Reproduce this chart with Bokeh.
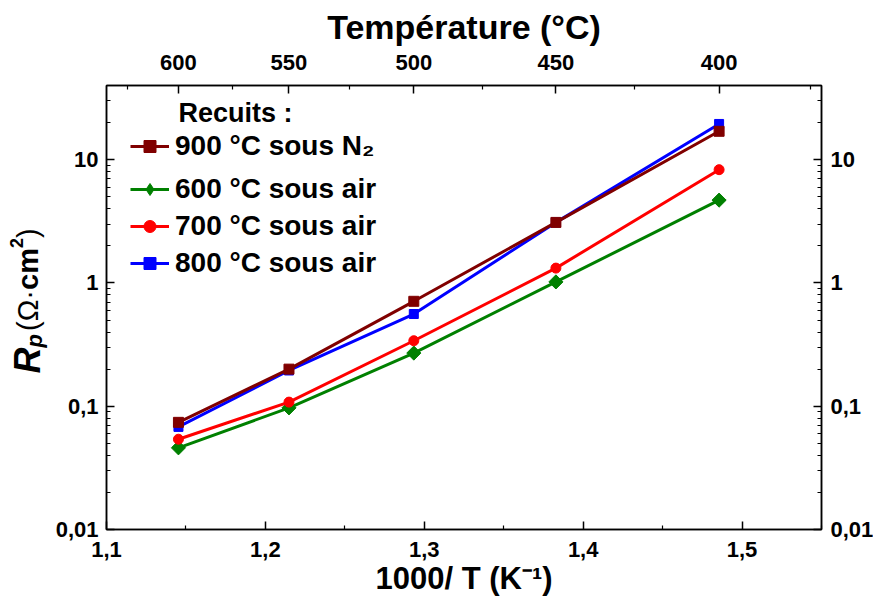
import numpy as np
from bokeh.plotting import figure
from bokeh.layouts import row
from bokeh.models import (LogAxis, LinearAxis, FixedTicker, CustomJSTickFormatter,
                          Legend, LegendItem, Label, Range1d)
from bokeh.embed import file_html
from bokeh.resources import INLINE

# ---- data ----
temps_C = [600, 550, 500, 450, 400]              # measurement temperatures (°C)
inv_T = [1000.0 / (t + 273.15) for t in temps_C]  # 1000/T (K^-1)

rp_900_N2 = [0.074, 0.20, 0.71, 3.1, 17.0]
rp_600_air = [0.046, 0.097, 0.27, 1.02, 4.7]
rp_700_air = [0.054, 0.108, 0.34, 1.32, 8.3]
rp_800_air = [0.068, 0.195, 0.56, 3.1, 19.5]

labels = ["900 °C sous N₂", "600 °C sous air", "700 °C sous air", "800 °C sous air"]

x_major = [1.1, 1.2, 1.3, 1.4, 1.5]
x_minor = [1.15, 1.25, 1.35, 1.45, 1.55]
y_major = [0.01, 0.1, 1, 10]
y_minor = [m * 10.0 ** e for e in (-2, -1, 0, 1) for m in range(2, 10) if m * 10.0 ** e < 40]
top_major_C = [600, 550, 500, 450, 400]
top_minor_C = [625, 575, 525, 475, 425, 375]

FONT = "Liberation Sans"
YFIG_W = 52
P_TOP = 85
FRAME_W, FRAME_H = 715, 444
P_BOTTOM = 71

p = figure(frame_width=FRAME_W, frame_height=FRAME_H,
           x_range=Range1d(1.1, 1.55), y_range=Range1d(0.01, 40),
           y_axis_type="log", output_backend="svg", toolbar_location=None,
           min_border_left=103 - YFIG_W, min_border_top=P_TOP, min_border_right=5,
           min_border_bottom=P_BOTTOM)
p.grid.visible = False
p.outline_line_color = "black"
p.outline_line_width = 1.5
p.background_fill_color = "white"
p.border_fill_color = "white"


def style(ax):
    ax.axis_line_width = 1.5
    ax.axis_line_color = "black"
    ax.major_tick_in = 8
    ax.major_tick_out = 0
    ax.minor_tick_in = 4
    ax.minor_tick_out = 0
    ax.major_tick_line_width = 1.5
    ax.minor_tick_line_width = 1.2
    ax.major_tick_line_color = "black"
    ax.minor_tick_line_color = "black"
    ax.major_label_text_font = FONT
    ax.major_label_text_font_style = "bold"
    ax.major_label_text_font_size = "22px"
    ax.major_label_text_color = "black"
    ax.major_label_standoff = 8


comma_lin = CustomJSTickFormatter(code="return tick.toFixed(1).replace('.', ',');")
comma_log = CustomJSTickFormatter(code="return String(Number(tick.toPrecision(3))).replace('.', ',');")
celsius = CustomJSTickFormatter(code="return String(Math.round(1000/tick - 273.15));")

xb = p.xaxis[0]
xb.ticker = FixedTicker(ticks=x_major, minor_ticks=x_minor)
xb.formatter = comma_lin
style(xb)
xb.major_label_standoff = 12
xb.axis_label = "1000/ T (K⁻¹)"
xb.axis_label_text_font = FONT
xb.axis_label_text_font_style = "bold"
xb.axis_label_text_font_size = "31px"
xb.axis_label_text_color = "black"
xb.axis_label_standoff = 1

yl = p.yaxis[0]
yl.ticker = FixedTicker(ticks=y_major, minor_ticks=y_minor)
yl.formatter = comma_log
style(yl)

yr = LogAxis(ticker=FixedTicker(ticks=y_major, minor_ticks=y_minor), formatter=comma_log)
style(yr)
yr.major_label_standoff = 9
p.add_layout(yr, "right")

xt = LinearAxis(ticker=FixedTicker(ticks=[1000.0 / (t + 273.15) for t in top_major_C],
                                   minor_ticks=[1000.0 / (t + 273.15) for t in top_minor_C]),
                formatter=celsius)
style(xt)
xt.major_label_standoff = 16
xt.axis_label = "Température (°C)"
xt.axis_label_text_font = FONT
xt.axis_label_text_font_style = "bold"
xt.axis_label_text_font_size = "34px"
xt.axis_label_text_color = "black"
xt.axis_label_standoff = 6
p.add_layout(xt, "above")

# ---- series ----
rend = {}
specs = [
    ("600", rp_600_air, "#008000", "square", np.pi / 4, 10),
    ("700", rp_700_air, "#ff0000", "circle", 0.0, 10),
    ("800", rp_800_air, "#0000ff", "square", 0.0, 9),
    ("900", rp_900_N2, "#800000", "square", 0.0, 10),
]
# diamond glyph for the legend swatch, drawn under the (rotated-square) green markers
green_diamond = p.scatter(inv_T, rp_600_air, marker="diamond", size=12,
                          fill_color="#008000", line_color="#008000")
for key, ys, col, mk, ang, sz in specs:
    l = p.line(inv_T, ys, line_color=col, line_width=3)
    s = p.scatter(inv_T, ys, marker=mk, angle=ang, size=sz, fill_color=col, line_color=col)
    rend[key] = [l, s]


def mk_legend(items, loc):
    return Legend(items=items, location=loc, padding=0, margin=0,
                  border_line_color=None, background_fill_alpha=0,
                  glyph_width=39, glyph_height=30, label_height=30,
                  label_standoff=6, spacing=5,
                  label_text_font=FONT, label_text_font_style="bold",
                  label_text_font_size="28px", label_text_color="black")


legA = mk_legend([LegendItem(label=labels[0], renderers=rend["900"])], (24, 367))
legB = mk_legend([LegendItem(label=labels[1], renderers=[rend["600"][0], green_diamond]),
                  LegendItem(label=labels[2], renderers=rend["700"]),
                  LegendItem(label=labels[3], renderers=rend["800"])], (24, 250))
p.add_layout(legA)
p.add_layout(legB)

p.add_layout(Label(x=1.1, y=40, x_offset=72, y_offset=-27, text="Recuits :",
                   text_font=FONT, text_font_style="bold", text_font_size="27px",
                   text_baseline="alphabetic", text_color="black"))

# ---- y axis title (rotated pieces) in a narrow strip whose frame lines up with the plot frame ----
yfig = figure(width=YFIG_W, height=P_TOP + FRAME_H + P_BOTTOM,
              x_range=Range1d(0, 1), y_range=Range1d(0, 1),
              output_backend="svg", toolbar_location=None,
              x_axis_location=None, y_axis_location=None, min_border=0)
yfig.title.visible = False
yfig.grid.visible = False
yfig.outline_line_color = None
yfig.background_fill_color = "white"
yfig.border_fill_color = "white"

y_pieces = [  # text, style, size, shift across baseline, advance
    ("R", "bold italic", 36, 0, 26.0),
    ("p", "bold italic", 22, 7, 16.5),
    ("(Ω·", "normal", 29, 0, 41.0),
    ("cm", "bold", 29, 0, 42.0),
    ("2", "bold", 18, -11, 10.0),
    (")", "normal", 29, 0, 10.0),
]
cur = float(P_TOP + FRAME_H - 373)
for txt, sty, fs, dx, adv in y_pieces:
    yfig.add_layout(Label(x=27 + dx, y=cur, x_units="screen", y_units="screen",
                          text=txt, angle=np.pi / 2,
                          text_font=FONT, text_font_style=sty, text_font_size=f"{fs}px",
                          text_align="left", text_baseline="alphabetic", text_color="black"))
    cur += adv

layout = row(yfig, p, spacing=0)
open("out.html", "w").write(file_html(layout, INLINE))
